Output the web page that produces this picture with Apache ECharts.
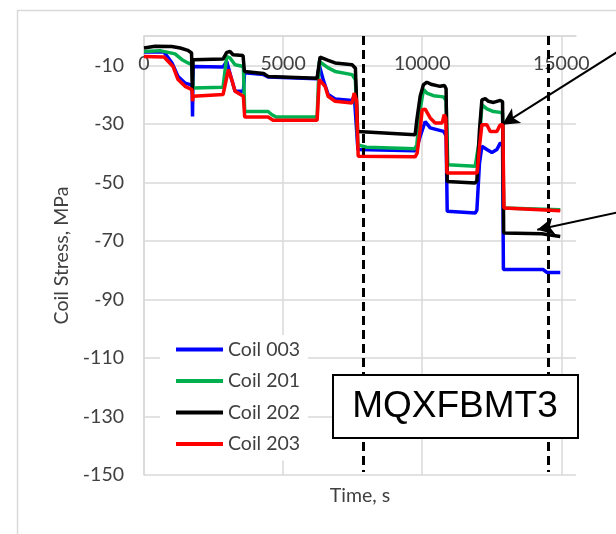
<!DOCTYPE html>
<html><head><meta charset="utf-8">
<script src="https://cdn.jsdelivr.net/npm/echarts@6/dist/echarts.min.js"></script>
<style>html,body{margin:0;padding:0;background:#fff}#c{width:616px;height:534px}</style>
</head><body><div id="c"></div><script>
// ---- data (time in s, coil stress in MPa) ----
const seriesNames = ['Coil 003', 'Coil 201', 'Coil 202', 'Coil 203'];
const seriesColors = ['#0000ff', '#00b050', '#000000', '#ff0000'];

const coil003 = [[0,-5.5],[720,-5.5],[1007,-9.2],[1223,-13.8],[1475,-16.1],[1727,-16.8],[1745,-27.5],[1765,-10.4],[2842,-10.6],[2974,-8.7],[3153,-14.9],[3273,-18.9],[3573,-18.9],[3615,-12.6],[4300,-13.2],[4460,-14],[6223,-14.6],[6300,-10],[6440,-14.9],[6620,-20],[6870,-21.5],[7482,-22],[7560,-20.5],[7690,-38.8],[9748,-39.2],[9809,-38],[9928,-34.3],[10108,-29.2],[10288,-31.4],[10767,-32.6],[10860,-34],[10900,-59.9],[11906,-60.5],[11967,-59.5],[12061,-43.4],[12147,-37.7],[12326,-38.8],[12506,-39.8],[12686,-38.8],[12806,-36.6],[12890,-37],[12920,-79.8],[14352,-79.8],[14480,-80.8],[14964,-80.8]];

const coil201 = [[0,-5.3],[576,-5.0],[1115,-6.1],[1367,-8.1],[1583,-9.2],[1727,-9.8],[1763,-17.8],[2842,-17.5],[2974,-7.0],[3093,-7.5],[3273,-9.8],[3573,-10.4],[3620,-25.8],[4460,-25.8],[4600,-26.9],[4750,-27.7],[6223,-27.7],[6300,-8.7],[6620,-10.9],[6870,-12.1],[7482,-13.2],[7600,-15],[7690,-37.2],[8000,-38.0],[9748,-38.5],[9809,-37],[9928,-25.2],[10047,-18.3],[10168,-19.5],[10407,-20.4],[10767,-20.8],[10860,-22],[10920,-44],[11906,-44.5],[11967,-44],[12061,-35.4],[12147,-23.5],[12326,-24.9],[12565,-25.8],[12806,-26.1],[12890,-26.5],[12930,-58.8],[14964,-59.4]];

const coil202 = [[0,-4.1],[400,-3.5],[1000,-3.6],[1300,-4.1],[1580,-4.9],[1710,-5.8],[1735,-19],[1765,-8.1],[2842,-7.9],[2974,-5.6],[3093,-5.3],[3201,-6.4],[3561,-6.7],[3610,-12.1],[4300,-12.8],[4460,-13.8],[6223,-14.4],[6330,-7.2],[6620,-8.3],[6870,-9.2],[7482,-9.8],[7600,-11],[7680,-32.6],[9748,-33.7],[9809,-28.6],[9928,-20.6],[10047,-16.6],[10168,-15.8],[10348,-16.6],[10647,-17.2],[10802,-16.9],[10860,-18],[10900,-49.7],[11906,-50.2],[11967,-49.5],[12061,-32],[12147,-21.8],[12266,-21.4],[12385,-22.3],[12565,-22.7],[12806,-22],[12890,-22.5],[12930,-67.3],[14300,-67.6],[14964,-68.5]];

const coil203 = [[0,-7.0],[720,-7.2],[1043,-10.4],[1223,-14.9],[1475,-17.2],[1727,-18.3],[1745,-22.3],[1765,-20.6],[2842,-20.0],[3034,-11.5],[3153,-14.9],[3273,-18.9],[3573,-20.6],[3620,-27.7],[4460,-27.7],[4640,-28.8],[6223,-28.8],[6300,-14.9],[6511,-17.2],[6618,-20.6],[6870,-22.3],[7482,-22.9],[7554,-19.5],[7640,-22],[7700,-41.1],[9748,-41.3],[9820,-40],[9928,-32],[10000,-25.2],[10108,-25.0],[10288,-28],[10468,-29.7],[10719,-29.7],[10791,-26.9],[10850,-28],[10890,-46.8],[11978,-46.8],[12061,-37.7],[12147,-30.3],[12326,-30.3],[12446,-32.6],[12686,-32.6],[12806,-30.3],[12900,-30.5],[12940,-58.8],[14964,-59.7]];

// annotations (time, stress)
const dashedTimes = [7889, 14544];
const arrowLines = [
  [[17841, -0.5], [12878, -30.3]],
  [[17841, -58.6], [14137, -66.2]]
];
const boxLabel = 'MQXFBMT3';

// axis settings
const xMin = 0, xMax = 15530, xStep = 5000;
const yMin = -150, yMax = 0, yStep = 20;

const allData = [coil003, coil201, coil202, coil203];
const font = 'Lato';
const txt = '#404040';
const gridColor = '#d9d9d9';

const chart = echarts.init(document.getElementById('c'), null, {renderer: 'canvas'});

function buildMarkData(withArrows) {
  const out = [];
  dashedTimes.forEach(t => {
    out.push([
      {coord: [t, 0], symbol: 'none', lineStyle: {type: [9, 5], width: 3, color: '#000'}},
      {coord: [t, -149], symbol: 'none', lineStyle: {type: [9, 5], width: 3, color: '#000'}}
    ]);
  });
  if (withArrows) {
    arrowLines.forEach(a => {
      const p0 = chart.convertToPixel({xAxisIndex: 0, yAxisIndex: 0}, a[0]);
      const p1 = chart.convertToPixel({xAxisIndex: 0, yAxisIndex: 0}, a[1]);
      out.push([
        {x: p0[0], y: p0[1], symbol: 'none', lineStyle: {type: 'solid', width: 2, color: '#000'}},
        {x: p1[0], y: p1[1], symbol: 'arrow', symbolSize: [13, 17], lineStyle: {type: 'solid', width: 2, color: '#000'}}
      ]);
    });
  }
  return out;
}

const series = seriesNames.map((n, i) => {
  const s = {
    name: n, type: 'line', data: allData[i],
    showSymbol: false, symbol: 'none',
    color: seriesColors[i],
    lineStyle: {width: 3.5, color: seriesColors[i]},
    z: 2 + i,
    clip: i !== 2
  };
  if (i === 2) {
    s.markLine = {
      silent: true, animation: false,
      symbol: 'none',
      label: {show: false},
      lineStyle: {color: '#000', width: 3},
      emphasis: {disabled: true},
      data: buildMarkData(false)
    };
  }
  return s;
});

const plain = v => String(v);

chart.setOption({
  animation: false,
  backgroundColor: '#fff',
  textStyle: {fontFamily: font},
  grid: {left: 144, top: 36, width: 432, height: 439, containLabel: false, outerBoundsMode: 'none'},
  xAxis: [{
    type: 'value', min: xMin, max: xMax, interval: xStep, position: 'top',
    axisLine: {show: true, onZero: false, lineStyle: {color: gridColor, width: 1.5}},
    axisTick: {show: false},
    axisLabel: {inside: true, margin: 18, fontSize: 19.5, color: txt, fontFamily: font, showMaxLabel: false, formatter: plain},
    splitLine: {show: true, showMaxLine: false, lineStyle: {color: gridColor, width: 1.5}}
  }, {
    type: 'value', min: xMin, max: xMax, position: 'bottom',
    axisLine: {show: false, onZero: false}, axisTick: {show: false},
    axisLabel: {show: false}, splitLine: {show: false},
    name: 'Time, s', nameLocation: 'middle', nameGap: 11,
    nameTextStyle: {fontSize: 19.5, color: txt, fontFamily: font}
  }],
  yAxis: {
    type: 'value', min: yMin, max: yMax, interval: yStep,
    axisLine: {show: true, lineStyle: {color: gridColor, width: 1.5}},
    axisTick: {show: false},
    axisLabel: {margin: 20, fontSize: 19.5, color: txt, fontFamily: font, showMaxLabel: false, formatter: plain},
    splitLine: {show: true, lineStyle: {color: gridColor, width: 1.5}},
    name: 'Coil Stress, MPa', nameLocation: 'middle', nameRotate: 90, nameGap: 70,
    nameTextStyle: {fontSize: 19.5, color: txt, fontFamily: font}
  },
  legend: {
    orient: 'vertical', left: 160, top: 335,
    padding: [4.5, 8, 6.5, 16],
    backgroundColor: '#fff',
    itemGap: 11.5, itemWidth: 47, itemHeight: 4, icon: 'rect',
    textStyle: {fontSize: 19.5, color: txt, fontFamily: font},
    data: seriesNames
  },
  series: series,
  graphic: [
    {type: 'rect', silent: true, z: -10, shape: {x: 17.5, y: 10.5, width: 700, height: 700},
      style: {fill: 'none', stroke: gridColor, lineWidth: 1.5}},
    {type: 'rect', silent: true, z: 100, shape: {x: 333, y: 375, width: 245, height: 63},
      style: {fill: '#fff', stroke: '#000', lineWidth: 2}},
    {type: 'text', silent: true, z: 101, x: 455, y: 407,
      style: {text: boxLabel, fontSize: 37, fontFamily: '"Liberation Sans", Arial, sans-serif', fill: '#000', align: 'center', verticalAlign: 'middle'}}
  ]
});

// add the arrows now that the axes can convert (time, stress) to pixels
chart.setOption({series: [{}, {}, {markLine: {data: buildMarkData(true)}}, {}]});
</script></body></html>
